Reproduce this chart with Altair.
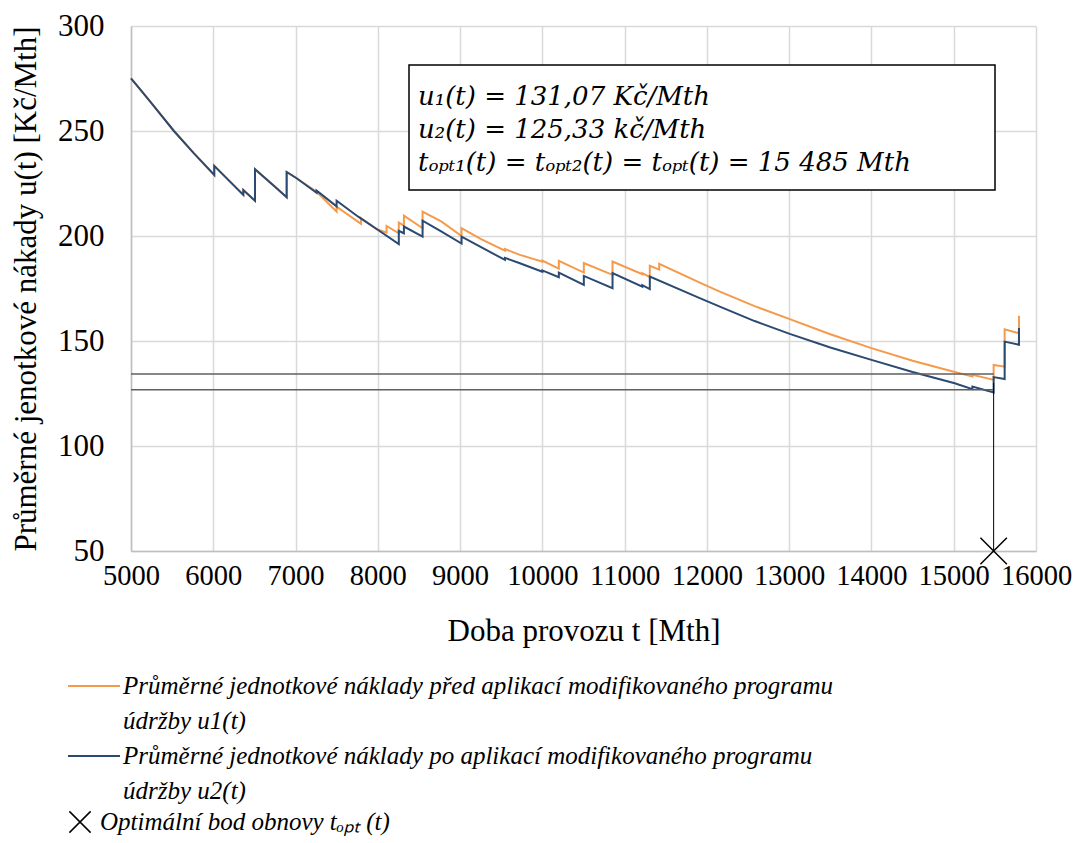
import altair as alt
import pandas as pd

# ---------------- data ----------------
# u1(t): before the modified maintenance program (orange)
T_U1 = [5000, 5109, 5251, 5522, 5757, 6012, 6012, 6365, 6365, 6507, 6507, 6750, 6892, 6892,
        7013, 7256, 7499, 7499, 7795, 7795, 7990, 8106, 8106, 8255, 8255, 8317, 8317,
        8544, 8544, 8775, 9018, 9018, 9255, 9545, 9545, 9727, 10000, 10000, 10200, 10200,
        10504, 10504, 10853, 10853, 11215, 11215, 11306, 11306, 11420, 11420, 11913, 12157,
        12580, 13007, 13500, 14000, 14500, 15012, 15227, 15227, 15485, 15485, 15619, 15619,
        15793, 15793]
U1 = [275.1, 269.9, 263.2, 250.0, 239.7, 229.1, 233.4, 219.6, 221.9, 216.8, 231.8, 223.5, 218.5, 230.5,
      227.5, 221.1, 211.6, 214.0, 205.8, 208.5, 203.2, 201.6, 204.8, 201.3, 206.4, 205.0, 209.7,
      203.7, 211.6, 206.8, 200.0, 203.7, 198.5, 193.0, 193.8, 191.0, 187.8, 188.3, 184.4, 188.2,
      182.6, 187.1, 181.5, 187.8, 181.8, 182.3, 180.4, 185.8, 184.0, 186.7, 177.8, 173.5,
      166.6, 160.4, 153.2, 146.6, 140.6, 135.2, 133.1, 133.9, 131.5, 138.6, 137.8, 155.6,
      153.7, 162.0]

# u2(t): after the modified maintenance program (dark blue)
T_U2 = [5000, 5109, 5251, 5522, 5757, 6012, 6012, 6365, 6365, 6507, 6507, 6750, 6892, 6892,
        7013, 7256, 7256, 7499, 7499, 7762, 7990, 8255, 8255, 8317, 8317, 8544, 8544,
        8775, 9018, 9018, 9255, 9545, 9545, 9727, 10000, 10000, 10200, 10200, 10504, 10504,
        10853, 10853, 11215, 11215, 11306, 11306, 11913, 12157, 12580, 13007, 13500, 14000,
        14500, 15012, 15227, 15227, 15485, 15485, 15619, 15619, 15793, 15793]
U2 = [275.1, 269.9, 263.2, 250.0, 239.7, 229.1, 233.4, 219.6, 221.9, 216.8, 231.8, 223.5, 218.5, 230.5,
      227.5, 220.6, 221.6, 214.1, 216.8, 209.2, 203.2, 196.1, 202.5, 201.3, 204.5, 199.7, 207.3,
      202.1, 196.4, 199.7, 194.7, 188.6, 189.6, 187.0, 183.0, 183.6, 180.4, 182.6, 176.7, 181.0,
      175.1, 182.3, 175.9, 176.6, 174.7, 180.7, 170.4, 166.4, 159.5, 153.4, 146.9, 141.0,
      135.2, 129.9, 127.1, 128.3, 125.5, 132.8, 131.9, 149.7, 148.2, 156.2]

X_TICKS = [5000, 6000, 7000, 8000, 9000, 10000, 11000, 12000, 13000, 14000, 15000, 16000]
Y_TICKS = [50, 100, 150, 200, 250, 300]

REF_LEVELS = [134.3, 126.8]     # grey horizontal guide lines
REF_T_START = 5000
T_OPT = 15485                   # optimal renewal point
T_OPT_TOP = 130.1
MARKER_U = 50

BOX_LINES = ["u\u2081(t) = 131,07 Kč/Mth",
             "u\u2082(t) = 125,33 kč/Mth",
             "t\u2092\u209a\u209c\u2081(t) = t\u2092\u209a\u209c\u2082(t) = t\u2092\u209a\u209c(t) = 15 485 Mth"]

LEG1 = ["Průměrné jednotkové náklady před aplikací modifikovaného programu", "údržby u1(t)"]
LEG2 = ["Průměrné jednotkové náklady po aplikací modifikovaného programu", "údržby u2(t)"]
LEG3 = "Optimální bod obnovy t\u2092\u209a\u209c (t)"

X_TITLE = "Doba provozu t [Mth]"
Y_TITLE = "Průměrné jenotkové nákady u(t) [Kč/Mth]"

# ---------------- styling ----------------
ORANGE = "#F59A4B"
BLUE = "#2B4A72"
FONT = "Liberation Serif, Times New Roman, serif"
BOX_FONT = "DejaVu Serif, serif"
W, H = 905, 525
CROSS = "M-1,-1L1,1M-1,1L1,-1"

xs = alt.Scale(domain=[5000, 16000], nice=False, zero=False)
ys = alt.Scale(domain=[50, 300], nice=False, zero=False)

x_axis = alt.Axis(values=X_TICKS, format="d", title=X_TITLE, labelOverlap=False,
                  labelFlush=False, labelBound=False, ticks=False, labelPadding=10,
                  titlePadding=27, labelFont=FONT, titleFont=FONT, labelFontSize=28.5)
y_axis = alt.Axis(values=Y_TICKS, format="d", title=Y_TITLE, labelOverlap=False,
                  labelFlush=False, ticks=False, labelPadding=27, titlePadding=15,
                  labelFont=FONT, titleFont=FONT)

X = alt.X("t:Q", scale=xs, axis=x_axis)
Y = alt.Y("u:Q", scale=ys, axis=y_axis)

df1 = pd.DataFrame({"t": T_U1, "u": U1, "i": range(len(T_U1))})
df2 = pd.DataFrame({"t": T_U2, "u": U2, "i": range(len(T_U2))})

line1 = alt.Chart(df1).mark_line(color=ORANGE, strokeWidth=2).encode(x=X, y=Y, order="i:Q")
line2 = alt.Chart(df2).mark_line(color=BLUE, strokeWidth=2).encode(x=X, y=Y, order="i:Q")

ref_df = pd.DataFrame({"t": [REF_T_START] * len(REF_LEVELS), "t2": [T_OPT] * len(REF_LEVELS),
                       "u": REF_LEVELS})
ref_lines = alt.Chart(ref_df).mark_rule(color="#5f5f5f", strokeWidth=1.5).encode(
    x=X, x2="t2:Q", y=Y)

vdf = pd.DataFrame({"t": [T_OPT], "u": [T_OPT_TOP], "u2": [MARKER_U]})
vline = alt.Chart(vdf).mark_rule(color="black", strokeWidth=1).encode(x=X, y=Y, y2="u2:Q")

mdf = pd.DataFrame({"t": [T_OPT], "u": [MARKER_U]})
marker = alt.Chart(mdf).mark_point(shape=CROSS, size=700, filled=False, color="black",
                                   strokeWidth=1.5, opacity=1).encode(x=X, y=Y)

one = pd.DataFrame({"k": [0]})
box = alt.Chart(one).mark_rect(fill="white", stroke="black", strokeWidth=1.5).encode(
    x=alt.value(278), x2=alt.value(864), y=alt.value(39), y2=alt.value(164))

box_text = alt.Chart(pd.DataFrame({"txt": ["\n".join(BOX_LINES)]})).mark_text(
    align="left", baseline="middle", font=BOX_FONT, fontStyle="italic", fontSize=26,
    lineBreak="\n", lineHeight=33, color="black").encode(
    text="txt:N", x=alt.value(287), y=alt.value(71))

# ---------------- legend (below the chart) ----------------
leg_sym1 = alt.Chart(one).mark_rule(color=ORANGE, strokeWidth=2).encode(
    x=alt.value(-63), x2=alt.value(-11), y=alt.value(660))
leg_sym2 = alt.Chart(one).mark_rule(color=BLUE, strokeWidth=2).encode(
    x=alt.value(-63), x2=alt.value(-11), y=alt.value(730))
leg_sym3 = alt.Chart(one).mark_point(shape=CROSS, size=450, filled=False, color="black",
                                     strokeWidth=1.5, opacity=1).encode(
    x=alt.value(-51), y=alt.value(796))

def leg_text(lines, x, y):
    return alt.Chart(pd.DataFrame({"txt": ["\n".join(lines)]})).mark_text(
        align="left", baseline="middle", font=FONT, fontStyle="italic", fontSize=25,
        lineBreak="\n", lineHeight=35, color="black").encode(
        text="txt:N", x=alt.value(x), y=alt.value(y))

leg_t1 = leg_text(LEG1, -8, 660)
leg_t2 = leg_text(LEG2, -8, 730)
leg_t3 = leg_text([LEG3], -31, 796)

chart = alt.layer(
    line1, line2, ref_lines, vline, marker, box, box_text,
    leg_sym1, leg_sym2, leg_sym3, leg_t1, leg_t2, leg_t3
).properties(
    width=W, height=H,
    autosize=alt.AutoSizeParams(type="none"),
    padding={"left": 123, "top": 18, "right": 36, "bottom": 300},
).configure(font=FONT).configure_view(stroke=None).configure_axis(
    labelFont=FONT, labelFontSize=31, labelColor="black",
    titleFont=FONT, titleFontSize=31, titleFontWeight="normal", titleColor="black",
    gridColor="#d9d9d9", gridWidth=1.5, domainColor="#bfbfbf", domainWidth=1.5,
)

chart.save("out.html", embed_options={"renderer": "svg", "actions": False})
